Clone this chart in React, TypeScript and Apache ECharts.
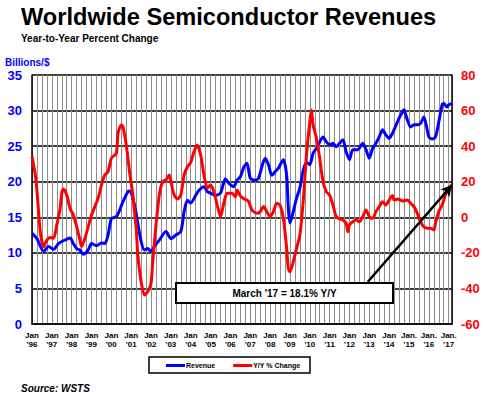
import React, { useEffect, useRef } from "react";
import * as echarts from "echarts";

// months since Jan 1996 (0 = Jan '96, 254 = Mar '17)
const revenueMonths = [
  0, 3, 7, 10, 13, 16, 19, 23, 25, 27, 29, 31, 34, 36, 39, 42, 44, 46, 48, 51,
  53, 55, 58, 59, 61, 63, 66, 68, 70, 72, 74, 77, 81, 84, 87, 90, 92, 94, 96, 99,
  101, 104, 106, 108, 111, 114, 117, 119, 122, 124, 126, 128, 130, 132, 135, 137, 139, 141, 143, 145,
  147, 149, 152, 154, 155, 156, 158, 160, 162, 164, 166, 168, 170, 172, 174, 176, 178, 180, 182, 184,
  186, 188, 190, 192, 194, 197, 200, 202, 204, 206, 208, 210, 212, 214, 216, 218, 221, 223, 225, 226,
  229, 231, 233, 235, 237, 239, 240, 242, 244, 246, 248, 249, 251, 252, 254,
];
const revenueValues = [
  12.75, 12.0, 10.2, 10.9, 10.5, 11.3, 11.7, 12.1, 11.3, 10.6, 10.4, 9.8, 10.4, 11.3, 11.0, 11.4, 11.3, 12.5, 14.8, 15.1,
  16.0, 17.2, 18.6, 18.7, 17.7, 15.5, 11.6, 10.4, 10.6, 10.2, 10.9, 11.8, 13.0, 12.0, 12.5, 13.0, 15.8, 17.4, 17.0, 18.1,
  18.8, 19.3, 18.6, 18.4, 18.1, 18.4, 20.4, 19.8, 19.3, 20.2, 20.7, 22.0, 22.6, 20.5, 20.2, 20.5, 22.1, 23.3, 22.4, 20.9,
  21.4, 21.9, 23.1, 20.9, 16.3, 14.2, 15.8, 17.7, 19.1, 21.6, 22.7, 22.4, 24.0, 24.7, 25.6, 26.3, 25.6, 25.2, 25.4, 24.9,
  25.4, 25.9, 24.2, 23.1, 24.5, 24.5, 25.4, 24.5, 23.3, 24.7, 25.4, 26.3, 27.3, 26.6, 26.1, 26.8, 28.4, 29.4, 30.1, 29.4,
  27.7, 28.0, 28.0, 28.2, 29.1, 27.3, 26.3, 26.0, 26.3, 28.4, 30.8, 31.0, 30.5, 30.8, 31.0,
];

const yoyMonths = [
  0, 2, 3, 5, 7, 9, 11, 13, 15, 17, 18, 19, 21, 23, 25, 27, 29, 30, 32, 34,
  36, 38, 40, 42, 44, 46, 48, 51, 52, 54, 55, 57, 59, 61, 62, 63, 64, 66, 68, 70,
  72, 73, 75, 77, 79, 81, 83, 84, 86, 88, 90, 92, 94, 96, 98, 100, 102, 104, 106, 108,
  110, 112, 114, 116, 118, 121, 123, 124, 126, 128, 130, 131, 133, 136, 138, 140, 142, 144, 146, 148,
  150, 152, 154, 155, 156, 158, 160, 162, 164, 166, 168, 169, 170, 172, 174, 176, 178, 180, 182, 184,
  186, 188, 190, 191, 192, 194, 196, 198, 200, 202, 204, 206, 208, 210, 212, 214, 216, 218, 219, 221,
  224, 227, 229, 231, 233, 235, 237, 239, 241, 243, 244, 246, 248, 250, 252, 254,
];
const yoyValues = [
  34.1, 23.8, 15.0, -8.1, -16.5, -12.8, -11.3, -11.8, -4.3, 5.0, 13.5, 15.9, 12.5, 5.0, 1.3, -5.3, -12.8, -16.5, -11.8, -5.3,
  1.3, 6.0, 10.7, 18.2, 23.8, 25.6, 33.2, 36.0, 47.2, 51.9, 50.9, 40.6, 25.6, 12.5, 3.0, -6.0, -21.2, -36.2, -43.7, -41.8,
  -37.1, -25.0, -4.3, 12.5, 20.0, 21.0, 23.8, 20.0, 12.5, 10.3, 12.5, 23.8, 28.4, 30.9, 36.9, 40.6, 35.0, 23.8, 16.3, 18.2,
  14.4, 6.9, 0.3, 7.9, 13.5, 13.5, 11.6, 15.3, 12.0, 10.5, 9.7, 8.8, 4.1, 2.2, 3.2, 6.0, 3.2, 0.3, 3.2, 7.9,
  6.9, -0.6, -17.4, -28.7, -30.6, -25.0, -17.4, -10.0, 8.8, 35.0, 53.7, 60.3, 51.9, 44.4, 33.2, 20.0, 14.4, 12.5, 6.9, 0.3,
  -0.9, -1.5, -3.4, -8.1, -4.3, -2.5, -1.5, -2.5, 0.3, 4.1, 0.3, -0.6, 3.2, 6.0, 8.8, 6.9, 9.7, 12.2, 9.7, 10.3,
  9.2, 9.7, 7.9, 6.0, 2.2, -2.5, -5.3, -6.2, -6.2, -7.1, -3.4, 3.2, 6.9, 12.5, 16.3, 18.1,
];

const xTickLabels = [
  "Jan\n'96", "Jan\n'97", "Jan\n'98", "Jan\n'99", "Jan\n'00", "Jan\n'01", "Jan\n'02", "Jan\n'03",
  "Jan\n'04", "Jan\n'05", "Jan\n'06", "Jan\n'07", "Jan\n'08", "Jan\n'09", "Jan\n'10", "Jan\n'11",
  "Jan\n'12", "Jan\n'13", "Jan\n'14", "Jan.\n'15", "Jan.\n'16", "Jan.\n'17",
];

const lastMonth = 254;
const lastYoY = 18.1;
const arrowStart = [203, -36.4];

const FONT = "'Liberation Sans', Arial, Helvetica, sans-serif";

export default function App() {
  const ref = useRef<HTMLDivElement>(null);
  useEffect(() => {
    if (!ref.current) return;
    const chart = echarts.init(ref.current, null, { renderer: "svg" });
    const revData = revenueMonths.map((m, i) => [m, revenueValues[i]]);
    const yoyData = yoyMonths.map((m, i) => [m, yoyValues[i]]);
    chart.setOption({
      animation: false,
      backgroundColor: "#ffffff",
      textStyle: { fontFamily: FONT },
      grid: { left: 32, right: 32, top: 75, bottom: 74, containLabel: false },
      legend: {
        data: ["Revenue", "Y/Y % Change"],
        left: 166,
        top: 362,
        padding: 0,
        icon: "rect",
        itemWidth: 19,
        itemHeight: 3,
        itemGap: 18,
        textStyle: { fontSize: 7, fontWeight: "bold", color: "#000", fontFamily: FONT, padding: [0, 0, 0, -4] },
      },
      xAxis: {
        type: "value",
        min: 0,
        max: lastMonth,
        interval: 3,
        axisLine: { show: true, lineStyle: { color: "#000", width: 1.5 } },
        axisTick: { show: false },
        splitLine: { show: true, lineStyle: { color: "#8c8c8c", width: 1 } },
        axisLabel: {
          margin: 7,
          fontSize: 8,
          lineHeight: 9,
          fontWeight: "bold",
          color: "#000",
          fontFamily: FONT,
          showMinLabel: true,
          showMaxLabel: true,
          formatter: (v: number) => (v % 12 === 0 ? xTickLabels[v / 12] || "" : ""),
        },
      },
      yAxis: [
        {
          type: "value",
          min: 0,
          max: 35,
          interval: 5,
          position: "left",
          axisLine: { show: true, lineStyle: { color: "#000", width: 1.5 } },
          axisTick: { show: false },
          splitLine: { show: true, lineStyle: { color: "#000", width: 1.5 } },
          axisLabel: { margin: 10, fontSize: 13, fontWeight: "bold", color: "#0000ff", fontFamily: FONT },
        },
        {
          type: "value",
          min: -60,
          max: 80,
          interval: 20,
          position: "right",
          axisLine: { show: true, lineStyle: { color: "#000", width: 1.5 } },
          axisTick: { show: false },
          splitLine: { show: false },
          axisLabel: { margin: 9, fontSize: 13, fontWeight: "bold", color: "#ff0000", fontFamily: FONT },
        },
      ],
      series: [
        {
          name: "Revenue",
          type: "line",
          yAxisIndex: 0,
          data: revData,
          showSymbol: false,
          symbol: "none",
          smooth: 0.25,
          itemStyle: { color: "#0000ff" },
          lineStyle: { color: "#0000ff", width: 3 },
          z: 3,
        },
        {
          name: "Y/Y % Change",
          type: "line",
          yAxisIndex: 1,
          data: yoyData,
          showSymbol: false,
          symbol: "none",
          smooth: 0.25,
          itemStyle: { color: "#ff0000" },
          lineStyle: { color: "#ff0000", width: 3 },
          z: 4,
          markLine: {
            silent: true,
            symbol: ["none", "arrow"],
            symbolSize: [9, 11],
            label: { show: false },
            lineStyle: { color: "#000", width: 2.5, type: "solid" },
            data: [[{ coord: arrowStart }, { coord: [lastMonth, lastYoY] }]],
          },
        },
      ],
      graphic: [
        {
          type: "text",
          left: 21,
          top: 5,
          style: { text: "Worldwide Semiconductor Revenues", font: `bold 23.6px ${FONT}`, fill: "#000" },
        },
        {
          type: "text",
          left: 21,
          top: 33,
          style: { text: "Year-to-Year Percent Change", font: `bold 10px ${FONT}`, fill: "#000" },
        },
        {
          type: "text",
          left: 5,
          top: 57,
          style: { text: "Billions/$", font: `bold 10px ${FONT}`, fill: "#0000ff" },
        },
        {
          type: "rect",
          shape: { x: 149, y: 357, width: 161, height: 16 },
          style: { fill: "transparent", stroke: "#000", lineWidth: 1.5 },
        },
        {
          type: "rect",
          z: 100,
          shape: { x: 176, y: 283, width: 217, height: 20 },
          style: { fill: "#fff", stroke: "#000", lineWidth: 2 },
        },
        {
          type: "text",
          z: 101,
          x: 284.5,
          y: 293,
          style: {
            text: "March '17 = 18.1% Y/Y",
            font: `bold 10px ${FONT}`,
            fill: "#000",
            align: "center",
            verticalAlign: "middle",
          },
        },
        {
          type: "text",
          left: 21,
          top: 383,
          style: { text: "Source: WSTS", font: `italic bold 10px ${FONT}`, fill: "#000" },
        },
      ],
    });
    return () => chart.dispose();
  }, []);
  return (
    <div
      ref={ref}
      style={{ position: "fixed", left: 0, top: 0, width: 484, height: 398, background: "#fff" }}
    />
  );
}
